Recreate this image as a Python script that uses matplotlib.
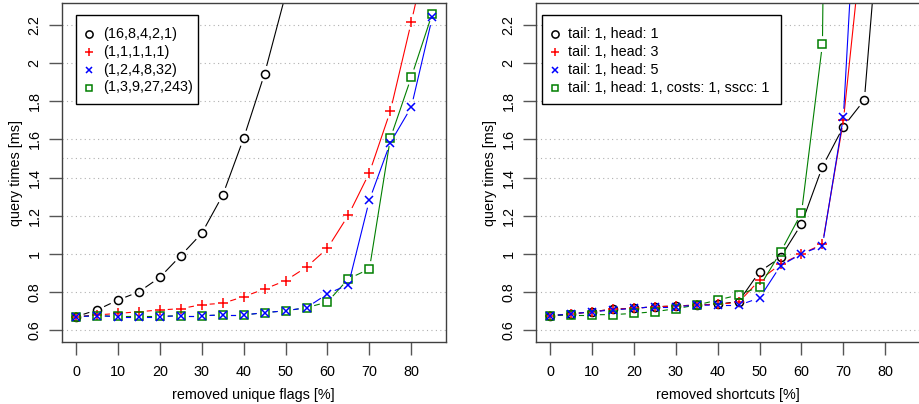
import numpy as np
import matplotlib.pyplot as plt
from matplotlib.patches import Rectangle

plt.rcParams['font.family'] = ['Liberation Sans', 'DejaVu Sans']
plt.rcParams['font.size'] = 10

# data kiri: removed unique flags
x_flags = [0, 5, 10, 15, 20, 25, 30, 35, 40, 45, 50, 55, 60, 65, 70, 75, 80, 85]
flags_16_8_4_2_1 = [0.67, 0.705, 0.757, 0.80, 0.876, 0.99, 1.107, 1.307, 1.606, 1.945, 2.36]
flags_1_1_1_1_1 = [0.67, 0.679, 0.687, 0.696, 0.705, 0.712, 0.733, 0.74, 0.775, 0.815,
                   0.859, 0.93, 1.029, 1.203, 1.425, 1.749, 2.216, 2.7]
flags_1_2_4_8_32 = [0.67, 0.675, 0.67, 0.67, 0.67, 0.675, 0.675, 0.679, 0.679, 0.691,
                    0.701, 0.717, 0.79, 0.838, 1.282, 1.583, 1.77, 2.24]
flags_1_3_9_27_243 = [0.67, 0.675, 0.672, 0.672, 0.672, 0.675, 0.675, 0.679, 0.679, 0.691,
                      0.701, 0.717, 0.747, 0.869, 0.92, 1.606, 1.927, 2.26]
labels_flags = ['(16,8,4,2,1)', '(1,1,1,1,1)', '(1,2,4,8,32)', '(1,3,9,27,243)']

# data kanan: removed shortcuts
x_short = [0, 5, 10, 15, 20, 25, 30, 35, 40, 45, 50, 55, 60, 65, 70, 75, 80]
tail1_head1 = [0.675, 0.684, 0.696, 0.709, 0.714, 0.722, 0.726, 0.731, 0.736, 0.749,
               0.906, 0.981, 1.156, 1.457, 1.667, 1.807, 3.15]
tail1_head3 = [0.675, 0.684, 0.696, 0.709, 0.714, 0.722, 0.726, 0.731, 0.735, 0.745,
               0.862, 0.945, 0.999, 1.05, 1.70, 2.75]
tail1_head5 = [0.675, 0.684, 0.696, 0.705, 0.714, 0.722, 0.722, 0.731, 0.73, 0.73,
               0.768, 0.937, 1.0, 1.042, 1.719, 3.7]
tail1_head1_costs = [0.675, 0.68, 0.68, 0.681, 0.687, 0.696, 0.712, 0.731, 0.757, 0.784,
                     0.827, 1.008, 1.214, 2.10, 12.0]
labels_short = ['tail: 1, head: 1', 'tail: 1, head: 3', 'tail: 1, head: 5',
                'tail: 1, head: 1, costs: 1, sscc: 1']

colors = ['black', '#ff0000', '#0000ff', '#007f00']
markers = ['o', '+', 'x', 's']
msizes = [5.8, 7, 5.5, 5.2]
box_col = '#404040'

fig = plt.figure(figsize=(9.19, 4.04), dpi=100)
ax1 = fig.add_axes([61.7 / 919, 61.7 / 404, 384 / 919, 339 / 404])
ax2 = fig.add_axes([535.7 / 919, 61.7 / 404, 384 / 919, 339 / 404])


def plot_b(ax, x, y, color, marker, ms, gap=8.5):
    # gaya R type="b": garis putus di sekitar titik
    x = np.asarray(x[:len(y)], float)
    y = np.asarray(y, float)
    pts = ax.transData.transform(np.column_stack([x, y]))
    inv = ax.transData.inverted()
    for i in range(len(pts) - 1):
        p, q = pts[i], pts[i + 1]
        d = q - p
        L = np.hypot(*d)
        if L <= 2 * gap:
            continue
        u = d / L
        a = inv.transform(p + u * gap)
        b = inv.transform(q - u * gap)
        ax.plot([a[0], b[0]], [a[1], b[1]], color=color, lw=0.8)
    ax.plot(x, y, ls='none', marker=marker, ms=ms, mfc='none', mec=color, mew=1.1)


def setup(ax, xlabel):
    ax.set_xlim(-3.4, 88.2)
    ax.set_ylim(0.5355, 2.314)
    ax.set_xticks(range(0, 81, 10))
    ax.set_yticks(np.round(np.arange(0.6, 2.21, 0.2), 1))
    ax.set_yticklabels(['0.6', '0.8', '1', '1.2', '1.4', '1.6', '1.8', '2', '2.2'],
                       rotation=90, va='center')
    for yv in list(np.arange(0.6, 2.21, 0.2)) + [1.5]:
        ax.axhline(yv, color='#b0b0b0', lw=0.8, ls=(0, (1, 3)), zorder=0)
    for s in ax.spines.values():
        s.set_color(box_col)
        s.set_linewidth(1.0)
    ax.tick_params(direction='out', length=9.5, width=1.0, color='#555555', pad=5,
                   labelsize=10.4)
    ax.tick_params(axis='x', pad=7)
    ax.set_xlabel(xlabel, fontsize=10.4, labelpad=6)
    ax.set_ylabel('query times [ms]', fontsize=10.4, labelpad=3)


def legend_r(ax, labs, box, mark_x, text_x):
    # legenda gaya R, posisi dalam piksel gambar
    L = ax.get_position().x0 * 919
    fx = lambda px: (px - L) / 384
    fy = lambda py: (342.3 - py) / 339
    x0, y0, x1, y1 = box
    ax.add_patch(Rectangle((fx(x0), fy(y1)), fx(x1) - fx(x0), fy(y0) - fy(y1),
                           transform=ax.transAxes, facecolor='white', edgecolor='black',
                           lw=1.0, zorder=5, clip_on=False))
    rows = [34, 51.7, 70, 87.5]
    for i, lab in enumerate(labs):
        ax.plot([fx(mark_x)], [fy(rows[i])], transform=ax.transAxes, ls='none',
                marker=markers[i], ms=msizes[i] - 0.6, mfc='none', mec=colors[i], mew=1.1,
                zorder=6, clip_on=False)
        ax.text(fx(text_x), fy(rows[i]), lab, transform=ax.transAxes, fontsize=10.4,
                va='center', ha='left', zorder=6)


setup(ax1, 'removed unique flags [%]')
setup(ax2, 'removed shortcuts [%]')

left_series = [flags_16_8_4_2_1, flags_1_1_1_1_1, flags_1_2_4_8_32, flags_1_3_9_27_243]
right_series = [tail1_head1, tail1_head3, tail1_head5, tail1_head1_costs]
order = [0, 1, 3, 2]
for i in order:
    plot_b(ax1, x_flags, left_series[i], colors[i], markers[i], msizes[i])
    plot_b(ax2, x_short, right_series[i], colors[i], markers[i], msizes[i])

legend_r(ax1, labels_flags, (76, 15, 197.7, 104), 89, 103)
legend_r(ax2, labels_short, (541.7, 15, 780.7, 104), 555, 568.3)

fig.savefig('out.png', dpi=100)
